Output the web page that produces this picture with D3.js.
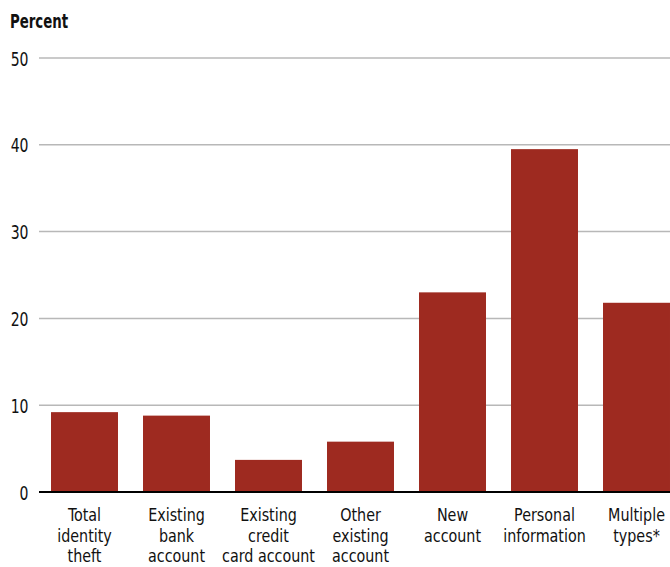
<!DOCTYPE html>
<html>
<head>
<meta charset="utf-8">
<script src="https://cdn.jsdelivr.net/npm/d3@7"></script>
<style>
  body { margin: 0; background: #fff; }
  svg text { font-family: "DejaVu Sans Condensed", "Liberation Sans Narrow", sans-serif; fill: #111; }
</style>
</head>
<body>
<div id="chart"></div>
<script>
// data
const categories = [
    ["Total", "identity", "theft"],
    ["Existing", "bank", "account"],
    ["Existing", "credit", "card account"],
    ["Other", "existing", "account"],
    ["New", "account"],
    ["Personal", "information"],
    ["Multiple", "types*"]
];
const values = [9.2, 8.8, 3.7, 5.8, 23.0, 39.5, 21.8];
const yTicks = [0, 10, 20, 30, 40, 50];

const width = 670, height = 567;
const squeeze = 0.8; // the original uses a condensed face, narrow the fallback a bit

const svg = d3.select("#chart").append("svg")
    .attr("width", width)
    .attr("height", height);

const x = d3.scaleBand()
    .domain(d3.range(categories.length))
    .range([38.5, 682.5])
    .paddingInner(0.272)
    .paddingOuter(0.136);

const y = d3.scaleLinear()
    .domain([0, 50])
    .range([492, 58]);

// gridlines
svg.append("g")
    .selectAll("line")
    .data(yTicks.filter(d => d > 0))
    .join("line")
    .attr("x1", 39)
    .attr("x2", width)
    .attr("y1", d => y(d))
    .attr("y2", d => y(d))
    .attr("stroke", "#b8b8b8")
    .attr("stroke-width", 1.5);

// bars
svg.append("g")
    .selectAll("rect")
    .data(values)
    .join("rect")
    .attr("x", (d, i) => x(i))
    .attr("width", x.bandwidth())
    .attr("y", d => y(d))
    .attr("height", d => y(0) - y(d))
    .attr("fill", "#9e2a20");

// zero line
svg.append("line")
    .attr("x1", 39)
    .attr("x2", width)
    .attr("y1", y(0))
    .attr("y2", y(0))
    .attr("stroke", "#000")
    .attr("stroke-width", 2.2);

// y tick labels
const yAxis = svg.append("g")
    .attr("transform", "translate(28.5,0)")
    .call(d3.axisLeft(y).tickValues(yTicks).tickSize(0).tickPadding(0));
yAxis.select(".domain").remove();
yAxis.selectAll("text")
    .attr("x", 0)
    .attr("dy", "0.36em")
    .attr("transform", `scale(${squeeze},1)`)
    .style("font-size", "19.5px")
    .attr("fill", "#111");

// axis title
svg.append("text")
    .attr("transform", `translate(10,28) scale(0.78,1)`)
    .style("font-size", "19px")
    .style("font-weight", "bold")
    .text("Percent");

// category labels, one text per line
const lines = [];
categories.forEach((c, i) => c.forEach((t, j) => lines.push({ i, j, t })));

svg.append("g")
    .selectAll("text")
    .data(lines)
    .join("text")
    .attr("text-anchor", "middle")
    .style("font-size", "17.5px")
    .attr("transform", d => `translate(${x(d.i) + x.bandwidth() / 2},${521 + d.j * 20.5}) scale(0.91,1)`)
    .text(d => d.t);
</script>
</body>
</html>
